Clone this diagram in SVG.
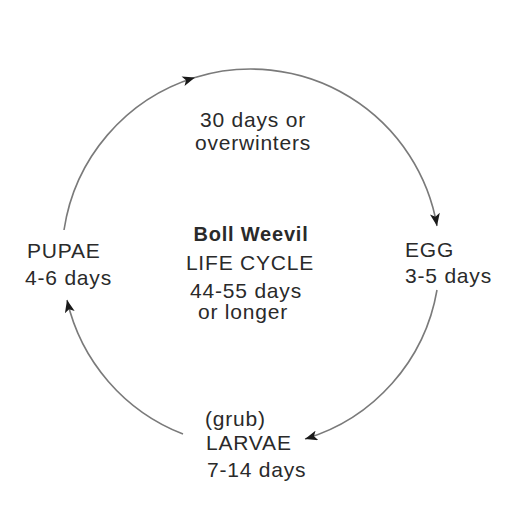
<svg xmlns="http://www.w3.org/2000/svg" width="512" height="512" viewBox="0 0 512 512">
<defs>
<style>
.t{font-family:"Liberation Sans",Arial,sans-serif;font-size:21px;fill:#2a2a2a;letter-spacing:0.8px}
.c{text-anchor:middle}
.b{font-weight:bold;font-size:20px}
.arc{fill:none;stroke:#7a7a7a;stroke-width:1.6}
</style>
<marker id="ah" viewBox="0 0 10 8" refX="10" refY="4" markerWidth="14" markerHeight="10" markerUnits="userSpaceOnUse" orient="auto">
<path d="M0,0 L10,4 L0,8 L2.5,4 Z" fill="#1a1a1a"/>
</marker>
</defs>
<rect width="512" height="512" fill="#ffffff"/>
<g id="connectors">
<path class="arc" d="M64,230 A189,189 0 0 1 195,77.5" marker-end="url(#ah)"/>
<path class="arc" d="M195,77.5 A189,189 0 0 1 437,226" marker-end="url(#ah)"/>
<path class="arc" d="M437,290 A189,189 0 0 1 305,439" marker-end="url(#ah)"/>
<path class="arc" d="M183,434 A189,189 0 0 1 67,300" marker-end="url(#ah)"/>
</g>
<g id="adult">
<text class="t c" x="253" y="127">30 days or</text>
<text class="t c" x="253" y="150">overwinters</text>
</g>
<g id="center">
<text class="t c b" x="251" y="241">Boll Weevil</text>
<text class="t c" x="250" y="270">LIFE CYCLE</text>
<text class="t c" x="246" y="298">44-55 days</text>
<text class="t c" x="243" y="319">or longer</text>
</g>
<g id="egg">
<text class="t" x="405" y="257">EGG</text>
<text class="t" x="405" y="283">3-5 days</text>
</g>
<g id="larvae">
<text class="t" x="205" y="426">(grub)</text>
<text class="t" x="206" y="450">LARVAE</text>
<text class="t" x="207" y="477">7-14 days</text>
</g>
<g id="pupae">
<text class="t" x="27" y="258">PUPAE</text>
<text class="t" x="25" y="285">4-6 days</text>
</g>
</svg>
